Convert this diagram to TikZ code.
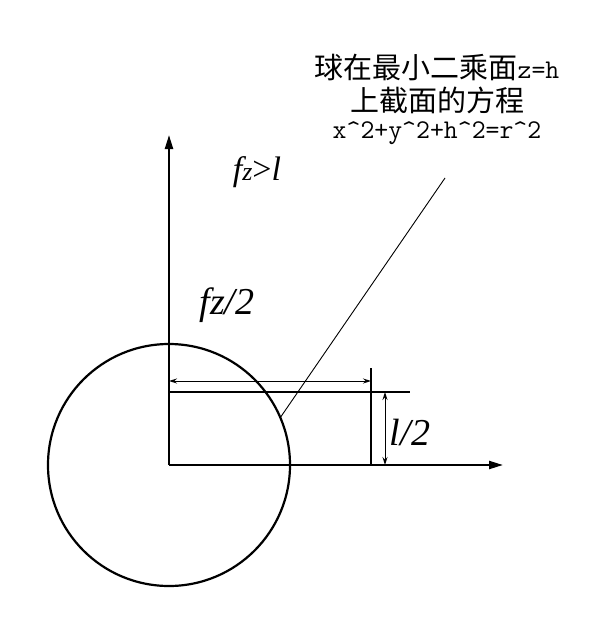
\documentclass[tikz,border=0pt]{standalone}
\usepackage{fontspec}
\setmainfont{Liberation Serif}
\newfontfamily\cjk{Noto Sans CJK SC}
\usetikzlibrary{arrows.meta}
\begin{document}
\begin{tikzpicture}[x=1pt,y=-1pt,
  thick line/.style={line width=2.2pt},
  axisarrow/.style={thick line,-{Triangle[length=14pt,width=8pt]}},
  dimarrow/.style={line width=1pt,{Stealth[length=8pt,width=5pt]}-{Stealth[length=8pt,width=5pt]}},
  lbl/.style={font=\fontsize{38}{38}\selectfont\itshape,inner sep=0pt}]
\useasboundingbox (0,0) rectangle (601,640);
\coordinate (O) at (169,465);
\coordinate (ytip) at (169,135);
\coordinate (xtip) at (503,465);
\coordinate (rl) at (169,392);
\coordinate (rr) at (410,392);
\coordinate (vt) at (371,368);
\coordinate (vb) at (371,465);
\coordinate (dl) at (169,381);
\coordinate (dr) at (371,381);
\coordinate (lt) at (385,392);
\coordinate (lb) at (385,465);
\coordinate (leadA) at (280,418);
\coordinate (leadB) at (445,178);
\draw[thick line] (O) circle (121);
\draw[axisarrow] (O) -- (ytip);
\draw[axisarrow] (O) -- (xtip);
\draw[thick line] (rl) -- (rr);
\draw[thick line] (vt) -- (vb);
\draw[dimarrow] (dl) -- (dr);
\draw[dimarrow] (lt) -- (lb);
\draw[line width=0.9pt] (leadA) -- (leadB);
\node[lbl,font=\fontsize{34}{34}\selectfont\itshape] (fzl) at (257,172) {f{\fontsize{26}{26}\selectfont z}{\upshape >}l};
\node[lbl] (fz2) at (227,305) {fz/2};
\node[lbl] (l2) at (410,432) {l/2};
\node[inner sep=0pt,align=center] (eq) at (437,99) {%
  {\cjk\fontsize{29}{29}\selectfont 球在最小二乘面}{\ttfamily\fontsize{27}{27}\selectfont z=h}\\[6pt]
  {\cjk\fontsize{29}{29}\selectfont 上截面的方程}\\[6pt]
  {\ttfamily\fontsize{27}{27}\selectfont x\^{}2+y\^{}2+h\^{}2=r\^{}2}};
\end{tikzpicture}
\end{document}
